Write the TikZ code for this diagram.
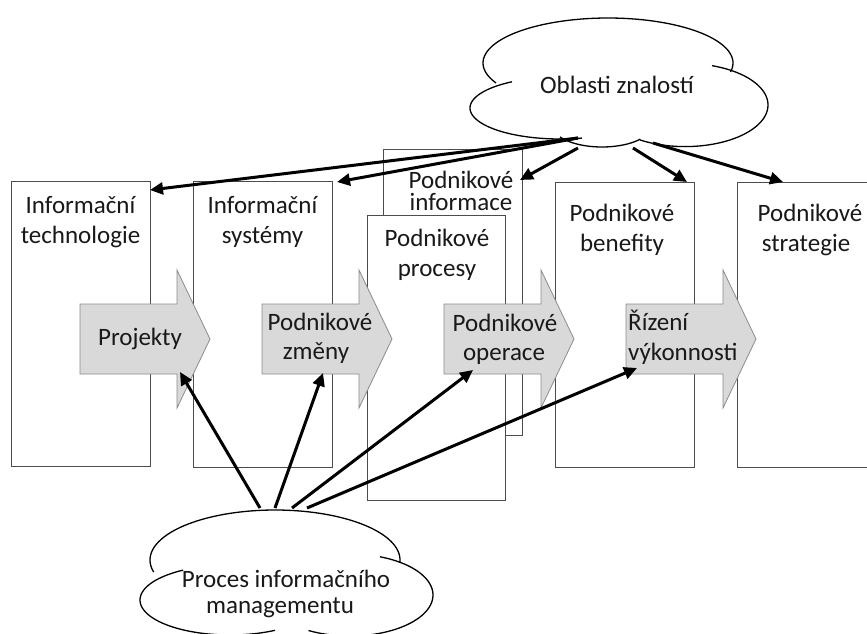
\documentclass[tikz,border=0pt]{standalone}
\usepackage{fontspec}
\setmainfont{Carlito}
\usetikzlibrary{arrows.meta,calc}
\begin{document}
\begin{tikzpicture}[x=1pt,y=-1pt,
  box/.style={draw=black!70, line width=0.8pt, fill=white, anchor=north west, inner sep=0pt},
  lbl/.style={anchor=base, inner sep=0pt, text=black!90, font=\fontsize{25}{30}\selectfont},
  lblw/.style={lbl, anchor=base west},
  flow/.style={draw=black!45, fill=black!15, line width=0.8pt, line join=miter},
  link/.style={line width=3pt, -{Triangle[length=13pt,width=12pt]}},
  cloudline/.style={line width=1.3pt},
  flowarrow/.pic={\path[flow] (0,0) -- (97,0) -- (97,-34) -- (130,35) -- (97,104) -- (97,70) -- (0,70) -- cycle;}]
\clip (0,0) rectangle (867,634);

% layers of the model
\node[box, minimum width=139pt, minimum height=285pt] (it) at (11,181) {};
\node[box, minimum width=139pt, minimum height=286pt] (is) at (193,181) {};
\node[box, minimum width=139pt, minimum height=286pt] (pi) at (383,149) {};
\node[box, minimum width=138pt, minimum height=285pt] (pp) at (367,215) {};
\node[box, minimum width=139pt, minimum height=285pt] (pb) at (555,182) {};
\node[box, minimum width=139pt, minimum height=285pt] (ps) at (737,182) {};

\node[lbl] (itA) at (80.5,213) {Informační};
\node[lbl] (itB) at (80.5,243) {technologie};
\node[lbl] (isA) at (262.5,213) {Informační};
\node[lbl] (isB) at (262.5,243) {systémy};
\node[lbl] (piA) at (461,188) {Podnikové};
\node[lbl] (piB) at (461,210) {informace};
\node[lbl] (ppA) at (437,246) {Podnikové};
\node[lbl] (ppB) at (437,276) {procesy};
\node[lbl] (pbA) at (622,221) {Podnikové};
\node[lbl] (pbB) at (622,251) {benefity};
\node[lbl] (psA) at (810,221) {Podnikové};
\node[lbl] (psB) at (806,251) {strategie};

% transitions between layers
\pic at (80,304) {flowarrow};
\pic at (262,304) {flowarrow};
\pic at (444,304) {flowarrow};
\pic at (626,304) {flowarrow};

\node[lbl] (fa) at (140,345) {Projekty};
\node[lbl] (fbA) at (320,330) {Podnikové};
\node[lbl] (fbB) at (316,359) {změny};
\node[lbl] (fcA) at (505,331) {Podnikové};
\node[lbl] (fcB) at (504,360) {operace};
\node[lblw] (fdA) at (628,330) {Řízení};
\node[lblw] (fdB) at (628,360) {výkonnosti};

% upper cloud
\fill[white] (608,63) ellipse [x radius=125, y radius=45];
\fill[white] (560,108) ellipse [x radius=90, y radius=31];
\fill[white] (685,105) ellipse [x radius=83, y radius=41.6];
\fill[white] (602,125) ellipse [x radius=50, y radius=22];
\draw[cloudline] plot[domain=153.6:371.5, samples=80] ({608+125*cos(\x)},{63+45*sin(\x)});
\draw[cloudline] plot[domain=75.9:237.8, samples=60] ({560+90*cos(\x)},{108+31*sin(\x)});
\draw[cloudline] plot[domain=289:482.8, samples=60] ({685+83*cos(\x)},{105+41.6*sin(\x)});
\draw[cloudline] plot[domain=40:147, samples=40] ({602+50*cos(\x)},{125+22*sin(\x)});
\node[lbl] (ok) at (617,93) {Oblasti znalostí};

% lower cloud
\fill[white] (275,560) ellipse [x radius=125, y radius=50];
\fill[white] (230,600) ellipse [x radius=90, y radius=35];
\fill[white] (350,595) ellipse [x radius=83, y radius=41];
\draw[cloudline] plot[domain=166:363.4, samples=80] ({275+125*cos(\x)},{560+50*sin(\x)});
\draw[cloudline] plot[domain=60:238.6, samples=60] ({230+90*cos(\x)},{600+35*sin(\x)});
\draw[cloudline] plot[domain=291.2:480, samples=60] ({350+83*cos(\x)},{595+41*sin(\x)});
\node[lbl] (pmA) at (286,587) {Proces informačního};
\node[lbl] (pmB) at (280,613) {managementu};

% connector ends
\coordinate (okA) at (578,138);
\coordinate (okB) at (578,148);
\coordinate (okC) at (633,148);
\coordinate (okD) at (653,143);
\coordinate (itT) at (150,190);
\coordinate (isT) at (337,182);
\coordinate (piT) at (520,180);
\coordinate (pbT) at (687,182);
\coordinate (psT) at (783,182);
\coordinate (pmA1) at (260,508);
\coordinate (pmA2) at (275,508);
\coordinate (pmA3) at (292,508);
\coordinate (pmA4) at (307,508);
\coordinate (faT) at (180,372);
\coordinate (fbT) at (323,373);
\coordinate (fcT) at (473,370);
\coordinate (fdT) at (637,368);

\draw[link] (okA) -- (itT);
\draw[link] (okA) -- (isT);
\draw[link] (okB) -- (piT);
\draw[link] (okC) -- (pbT);
\draw[link] (okD) -- (psT);
\draw[link] (pmA1) -- (faT);
\draw[link] (pmA2) -- (fbT);
\draw[link] (pmA3) -- (fcT);
\draw[link] (pmA4) -- (fdT);
\end{tikzpicture}
\end{document}
